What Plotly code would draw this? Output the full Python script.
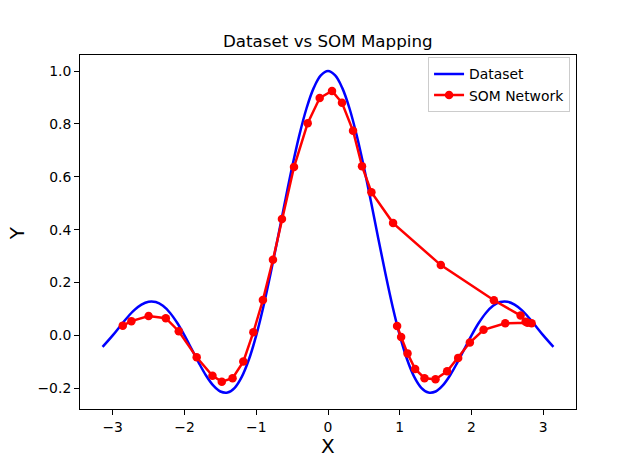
import plotly.graph_objects as go

# Dataset curve values
data_x = [-3.1416, -3.0, -2.9, -2.8, -2.7, -2.6, -2.5, -2.4, -2.3, -2.2, -2.1, -2.0,
          -1.9, -1.8, -1.7, -1.6, -1.5, -1.4, -1.3, -1.2, -1.1, -1.0,
          -0.9, -0.8, -0.7, -0.6, -0.5, -0.4, -0.3, -0.2, -0.1, 0.0,
          0.1, 0.2, 0.3, 0.4, 0.5, 0.6, 0.7, 0.8, 0.9, 1.0,
          1.1, 1.2, 1.3, 1.4, 1.5, 1.6, 1.7, 1.8, 1.9, 2.0,
          2.1, 2.2, 2.3, 2.4, 2.5, 2.6, 2.7, 2.8, 2.9, 3.0, 3.1416]
data_y = [-0.0436, 0.0, 0.0339, 0.0668, 0.0954, 0.1164, 0.1273, 0.1261, 0.1120, 0.0850, 0.0468, 0.0,
          -0.0518, -0.1039, -0.1515, -0.1892, -0.2122, -0.2162, -0.1981, -0.1559, -0.0894, 0.0,
          0.1093, 0.2339, 0.3679, 0.5046, 0.6366, 0.7568, 0.8584, 0.9355, 0.9836, 1.0,
          0.9836, 0.9355, 0.8584, 0.7568, 0.6366, 0.5046, 0.3679, 0.2339, 0.1093, 0.0,
          -0.0894, -0.1559, -0.1981, -0.2162, -0.2122, -0.1892, -0.1515, -0.1039, -0.0518, 0.0,
          0.0468, 0.0850, 0.1120, 0.1261, 0.1273, 0.1164, 0.0954, 0.0668, 0.0339, 0.0, -0.0436]

# SOM network nodes (chain order)
som_x = [-2.86, -2.74, -2.50, -2.26, -2.08, -1.83, -1.61, -1.48, -1.33, -1.18, -1.04,
         -0.907, -0.767, -0.642, -0.474, -0.283, -0.116, 0.056, 0.195, 0.349, 0.474,
         0.605, 0.907, 1.572, 2.312, 2.684, 2.754, 2.838, 2.78, 2.47, 2.168, 1.977,
         1.814, 1.660, 1.498, 1.345, 1.214, 1.108, 1.019, 0.963]
som_y = [0.037, 0.054, 0.073, 0.065, 0.016, -0.083, -0.153, -0.175, -0.162, -0.099, 0.012,
         0.134, 0.286, 0.440, 0.637, 0.803, 0.898, 0.925, 0.880, 0.774, 0.640,
         0.542, 0.425, 0.266, 0.133, 0.075, 0.052, 0.046, 0.048, 0.046, 0.021, -0.027,
         -0.085, -0.136, -0.166, -0.162, -0.127, -0.068, -0.006, 0.036]

x_ticks = [-3, -2, -1, 0, 1, 2, 3]
x_labels = ["\u22123", "\u22122", "\u22121", "0", "1", "2", "3"]
y_ticks = [-0.2, 0.0, 0.2, 0.4, 0.6, 0.8, 1.0]
y_labels = ["\u22120.2", "0.0", "0.2", "0.4", "0.6", "0.8", "1.0"]

FONT = "DejaVu Sans"

fig = go.Figure()
fig.add_trace(go.Scatter(x=data_x, y=data_y, mode="lines", name="Dataset",
                         line=dict(color="#0000ff", width=2.5, shape="spline")))
fig.add_trace(go.Scatter(x=som_x, y=som_y, mode="lines+markers", name="SOM Network",
                         line=dict(color="#ff0000", width=2.5),
                         marker=dict(color="#ff0000", size=8.5)))

axis_common = dict(showgrid=False, zeroline=False, showline=True, linecolor="black",
                   linewidth=1, mirror=True, ticks="outside", ticklen=5, tickwidth=1,
                   tickcolor="black", tickfont=dict(family=FONT, size=13.9, color="black"))

# The page body adds an 8px offset, so the figure is 8px smaller with left/top margins compensated
fig.update_layout(
    width=632, height=451,
    margin=dict(l=72, r=64, t=47, b=50),
    plot_bgcolor="white", paper_bgcolor="white",
    font=dict(family=FONT, color="black"),
    xaxis=dict(range=[-3.456, 3.456], tickvals=x_ticks, ticktext=x_labels, **axis_common),
    yaxis=dict(range=[-0.2784, 1.0608], tickvals=y_ticks, ticktext=y_labels, **axis_common),
    showlegend=True,
    legend=dict(x=0.988, y=0.993, xanchor="right", yanchor="top",
                bgcolor="rgba(255,255,255,0.8)", bordercolor="#cccccc", borderwidth=1,
                font=dict(family=FONT, size=13.9, color="black"),
                itemwidth=30, tracegroupgap=0),
    annotations=[
        dict(text="Dataset vs SOM Mapping", xref="paper", yref="paper", x=0.5, y=1.0395,
             xanchor="center", yanchor="middle", showarrow=False,
             font=dict(family=FONT, size=16.7, color="black")),
        dict(text="X", xref="paper", yref="paper", x=0.5, y=-0.1045,
             xanchor="center", yanchor="middle", showarrow=False,
             font=dict(family=FONT, size=20, color="black")),
        dict(text="Y", xref="paper", yref="paper", x=-0.1265, y=0.497,
             xanchor="center", yanchor="middle", showarrow=False, textangle=-90,
             font=dict(family=FONT, size=20, color="black")),
    ],
)

fig.write_html("out.html")
